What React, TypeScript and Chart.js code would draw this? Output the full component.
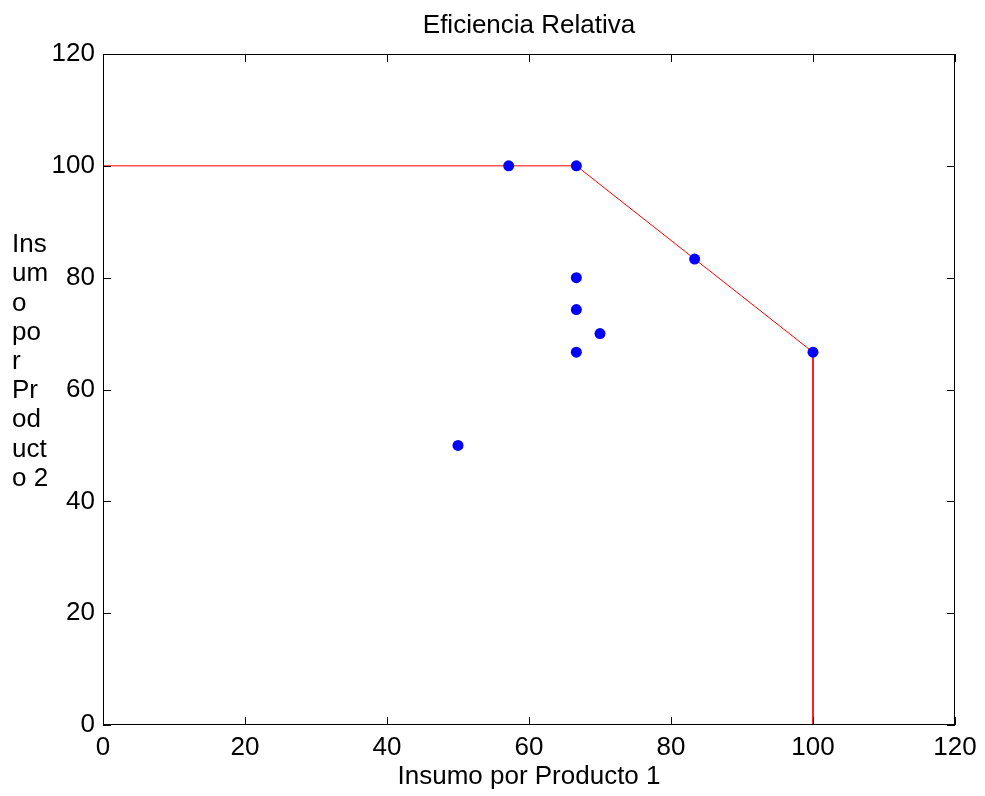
import React, { useEffect, useRef } from "react";
import { Chart, registerables } from "chart.js";

Chart.register(...registerables);

const titleText = "Eficiencia Relativa";
const xTitle = "Insumo por Producto 1";
const yTitleLines = ["Ins", "um", "o", "po", "r", "Pr", "od", "uct", "o 2"];
const tickValues = [0, 20, 40, 60, 80, 100, 120];

const pointsX = [57.14, 66.67, 83.33, 100, 66.67, 66.67, 70, 66.67, 50];
const pointsY = [100, 100, 83.33, 66.67, 80, 74.29, 70, 66.67, 50];

const frontierX = [0, 66.67, 83.33, 100, 100];
const frontierY = [100, 100, 83.33, 66.67, 0];

const FONT = "'Liberation Sans', Arimo, sans-serif";
const FS = 26;

export default function App() {
  const ref = useRef<HTMLCanvasElement>(null);
  useEffect(() => {
    document.body.style.margin = "0";
    const ctx = ref.current!.getContext("2d")!;
    const decor = {
      id: "decor",
      afterDraw(chart: any) {
        const c = chart.ctx;
        const a = chart.chartArea;
        const xs = chart.scales.x;
        const ys = chart.scales.y;
        c.save();
        c.strokeStyle = "#000";
        c.lineWidth = 1;
        c.strokeRect(a.left + 0.5, a.top + 0.5, a.right - a.left - 1, a.bottom - a.top - 1);
        c.beginPath();
        for (const v of tickValues) {
          const px = Math.round(xs.getPixelForValue(v)) + 0.5;
          c.moveTo(px, a.bottom);
          c.lineTo(px, a.bottom - 8);
          c.moveTo(px, a.top);
          c.lineTo(px, a.top + 8);
          const py = Math.round(ys.getPixelForValue(v)) + 0.5;
          c.moveTo(a.left, py);
          c.lineTo(a.left + 8, py);
          c.moveTo(a.right, py);
          c.lineTo(a.right - 8, py);
        }
        c.stroke();
        c.fillStyle = "#000";
        c.font = `${FS}px ${FONT}`;
        c.textAlign = "center";
        c.textBaseline = "middle";
        c.fillText(titleText, (a.left + a.right) / 2, 26);
        c.fillText(xTitle, (a.left + a.right) / 2, 777);
        c.textAlign = "left";
        yTitleLines.forEach((t, i) => {
          c.fillText(t, 12, 245 + i * 29.2);
        });
        c.restore();
      },
    };
    const chart = new Chart(ctx, {
      type: "scatter",
      data: {
        datasets: [
          {
            type: "line",
            data: frontierX.map((x, i) => ({ x, y: frontierY[i] })),
            borderColor: "#ff0000",
            borderWidth: 1,
            pointRadius: 0,
            fill: false,
            tension: 0,
            order: 2,
          } as any,
          {
            data: pointsX.map((x, i) => ({ x, y: pointsY[i] })),
            backgroundColor: "#0000ff",
            borderColor: "#0000ff",
            pointRadius: 5.5,
            borderWidth: 0,
            order: 1,
          },
        ],
      },
      options: {
        animation: false,
        responsive: false,
        events: [],
        layout: { padding: { top: 54, right: 30, left: 0, bottom: 0 } },
        plugins: { legend: { display: false }, title: { display: false }, tooltip: { enabled: false } },
        scales: {
          x: {
            type: "linear",
            min: 0,
            max: 120,
            afterBuildTicks: (s: any) => { s.ticks = tickValues.map((v) => ({ value: v })); },
            afterFit: (s: any) => { s.height = 71; },
            grid: { display: false, drawTicks: false },
            border: { display: false },
            ticks: { color: "#000", font: { size: FS, family: FONT }, padding: 7, maxRotation: 0 },
          },
          y: {
            type: "linear",
            min: 0,
            max: 120,
            afterBuildTicks: (s: any) => { s.ticks = tickValues.map((v) => ({ value: v })); },
            afterFit: (s: any) => { s.width = 103; },
            grid: { display: false, drawTicks: false },
            border: { display: false },
            ticks: { color: "#000", font: { size: FS, family: FONT }, padding: 8 },
          },
        },
      },
      plugins: [decor],
    } as any);
    return () => chart.destroy();
  }, []);
  return <canvas ref={ref} width={985} height={796} style={{ display: "block" }} />;
}
